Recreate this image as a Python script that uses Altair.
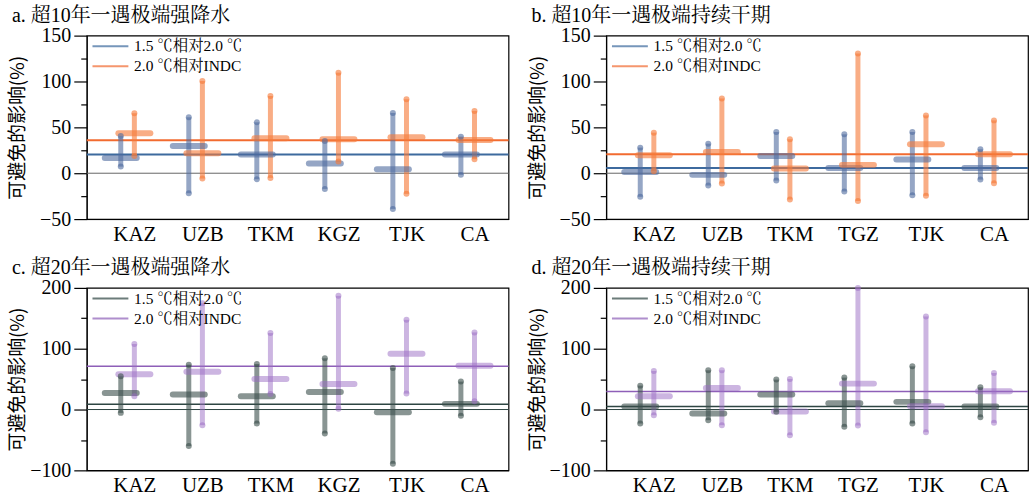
import altair as alt
import pandas as pd

# ---------------- data ----------------
SERIES = ["1.5 ℃相对2.0 ℃", "2.0 ℃相对INDC"]
countries_rain = ["KAZ", "UZB", "TKM", "KGZ", "TJK", "CA"]
countries_dry = ["KAZ", "UZB", "TKM", "TGZ", "TJK", "CA"]

# panel a: 超10年一遇极端强降水
a_s1_low = [7.2, -21.8, -6.5, -17.1, -38.9, -1.8]
a_s1_high = [40.6, 61.0, 55.5, 35.2, 65.7, 39.9]
a_s1_mid = [16.7, 29.7, 20.3, 10.5, 4.3, 20.3]
a_s2_low = [18.8, -5.8, -5.1, 12.7, -22.5, 15.2]
a_s2_high = [65.4, 100.5, 84.2, 109.6, 80.6, 67.9]
a_s2_mid = [43.6, 21.8, 38.1, 37.0, 39.2, 36.3]
a_ref = [20.3, 36.0]

# panel b: 超10年一遇极端持续干期
b_s1_low = [-25.7, -13.4, -8.0, -19.9, -23.9, -6.9]
b_s1_high = [27.9, 32.2, 44.9, 42.4, 44.9, 26.1]
b_s1_mid = [1.4, -1.8, 18.8, 5.8, 14.9, 5.8]
b_s2_low = [2.2, -11.2, -28.6, -30.4, -24.6, -10.9]
b_s2_high = [44.2, 81.5, 37.0, 130.4, 63.0, 57.6]
b_s2_mid = [19.6, 23.2, 5.1, 9.1, 31.5, 20.7]
b_ref = [5.8, 20.7]

# panel c: 超20年一遇极端强降水
c_s1_low = [-5.5, -60.1, -23.0, -39.3, -89.1, -10.4]
c_s1_high = [54.6, 73.8, 74.9, 84.2, 68.3, 45.9]
c_s1_mid = [27.3, 24.6, 21.9, 29.0, -4.4, 9.3]
c_s2_low = [21.9, -25.7, 25.7, 1.1, 26.2, 13.7]
c_s2_high = [107.7, 174.9, 125.7, 186.9, 147.5, 126.8]
c_s2_mid = [57.9, 62.3, 50.3, 42.1, 91.8, 72.1]
c_ref = [8.7, 71.0]

# panel d: 超20年一遇极端持续干期
d_s1_low = [-23.0, -17.5, -3.8, -28.4, -23.0, -12.6]
d_s1_high = [39.3, 64.5, 49.2, 52.5, 71.0, 36.6]
d_s1_mid = [4.9, -6.6, 24.6, 10.4, 12.6, 4.9]
d_s2_low = [-9.3, -25.7, -42.1, -26.2, -37.2, -21.9]
d_s2_high = [63.4, 64.5, 50.3, 200.0, 153.0, 60.1]
d_s2_mid = [21.9, 35.5, -3.3, 42.6, 5.5, 30.1]
d_ref = [4.9, 29.5]

# ---------------- style ----------------
SERIF = "Liberation Serif, Noto Serif CJK SC, Noto Sans CJK SC"
CJK = "Noto Sans CJK SC"
W, H_TOP, H_BOT = 423, 184, 183
OFFSETS = [-0.2, 0.0]
HALF = 0.235


def panel(title, countries, s1, s2, ref, ydom, step, line_colors, bar_colors,
          bar_opacity, ref_width, zero_color, height):
    rows = []
    for k, (lo, hi, mid) in enumerate([s1, s2]):
        for i, c in enumerate(countries):
            xp = i + 1 + OFFSETS[k]
            rows.append(dict(series=SERIES[k], country=c, x=xp,
                             xl=xp - HALF, xr=xp + HALF,
                             lo=lo[i], hi=hi[i], mid=mid[i],
                             bar=bar_colors[k], op=bar_opacity[k]))
    df = pd.DataFrame(rows)
    ends = pd.concat([
        df.assign(v=df["lo"]), df.assign(v=df["hi"])
    ], ignore_index=True)
    df_ref = pd.DataFrame({"series": SERIES, "v": ref})
    df_zero = pd.DataFrame({"v": [0]})

    label_arr = "[" + ",".join("'%s'" % c for c in countries) + "]"
    xaxis = alt.Axis(values=list(range(1, len(countries) + 1)),
                     labelExpr=label_arr + "[datum.value - 1]",
                     ticks=False, grid=False, title=None,
                     labelFont=SERIF, labelFontSize=21, labelPadding=4,
                     labelColor="black", domainColor="black")
    xs = alt.Scale(domain=[0.3, 6.5], nice=False, zero=False)

    yvals = list(range(ydom[0], ydom[1] + 1, step // 2))
    yaxis = alt.Axis(values=yvals,
                     labelExpr="datum.value %% %d === 0 ? datum.label : ''" % step,
                     tickSize={"condition": {"test": "datum.value %% %d === 0" % step,
                                             "value": 13}, "value": 6},
                     tickColor="black", tickWidth=1.2, grid=False,
                     labelFont=SERIF, labelFontSize=20, labelPadding=3,
                     labelColor="black", domainColor="black",
                     title="可避免的影响(%)", titleFont=CJK, titleFontSize=19,
                     titleFontWeight="normal", titleColor="black",
                     titleX=-69, titleY=height / 2, titleAngle=270,
                     titleAlign="center", titleBaseline="middle")
    ys = alt.Scale(domain=ydom, nice=False, zero=False)

    def X(f):
        return alt.X(f, scale=xs, axis=xaxis)

    def Y(f):
        return alt.Y(f, scale=ys, axis=yaxis)

    zero = alt.Chart(df_zero).mark_rule(color=zero_color, strokeWidth=1).encode(
        y=Y("v:Q"))
    refl = alt.Chart(df_ref).mark_rule(strokeWidth=ref_width).encode(
        y=Y("v:Q"),
        color=alt.Color("series:N",
                        scale=alt.Scale(domain=SERIES, range=line_colors),
                        legend=alt.Legend(orient="none", legendX=16, legendY=3,
                                          title=None,
                                          symbolType="M-9,0H9", symbolSize=16,
                                          symbolStrokeWidth=2,
                                          labelFont=SERIF, labelFontSize=15.5,
                                          labelColor="black", labelOffset=16,
                                          padding=0, rowPadding=3,
                                          labelLimit=300)))
    vbar = alt.Chart(df).mark_rule(strokeWidth=5).encode(
        x=X("x:Q"), y=Y("lo:Q"), y2="hi:Q",
        color=alt.Color("bar:N", scale=None),
        opacity=alt.Opacity("op:Q", scale=None))
    hbar = alt.Chart(df).mark_rule(strokeWidth=6, strokeCap="round").encode(
        x=X("xl:Q"), x2="xr:Q", y=Y("mid:Q"),
        color=alt.Color("bar:N", scale=None),
        opacity=alt.Opacity("op:Q", scale=None))
    dots = alt.Chart(ends).mark_circle(size=36).encode(
        x=X("x:Q"), y=Y("v:Q"),
        color=alt.Color("bar:N", scale=None),
        opacity=alt.Opacity("op:Q", scale=None))

    return alt.layer(zero, refl, vbar, hbar, dots).properties(
        width=W, height=height,
        title=alt.TitleParams(title, anchor="start", font=SERIF, fontSize=20,
                              fontWeight="normal", color="black", offset=0, dx=3))


blue_or = ["#3d6a9e", "#f26b30"]
blue_or_bar = ["#4e6a9e", "#f57a3a"]
dk_pu = ["#2e4643", "#8e5fb8"]
dk_pu_bar = ["#3a4e4b", "#9a6cc4"]

pa = panel("a. 超10年一遇极端强降水", countries_rain,
           (a_s1_low, a_s1_high, a_s1_mid), (a_s2_low, a_s2_high, a_s2_mid),
           a_ref, [-50, 150], 50, blue_or, blue_or_bar, [0.6, 0.62], 2, "#666666", H_TOP)
pb = panel("b. 超10年一遇极端持续干期", countries_dry,
           (b_s1_low, b_s1_high, b_s1_mid), (b_s2_low, b_s2_high, b_s2_mid),
           b_ref, [-50, 150], 50, blue_or, blue_or_bar, [0.6, 0.62], 2, "#666666", H_TOP)
pc = panel("c. 超20年一遇极端强降水", countries_rain,
           (c_s1_low, c_s1_high, c_s1_mid), (c_s2_low, c_s2_high, c_s2_mid),
           c_ref, [-100, 200], 100, dk_pu, dk_pu_bar, [0.6, 0.5], 1.5, "#2e4643", H_BOT)
pd_ = panel("d. 超20年一遇极端持续干期", countries_dry,
            (d_s1_low, d_s1_high, d_s1_mid), (d_s2_low, d_s2_high, d_s2_mid),
            d_ref, [-100, 200], 100, dk_pu, dk_pu_bar, [0.6, 0.5], 1.5, "#2e4643", H_BOT)

top = alt.hconcat(pa, pb, spacing=17).resolve_scale(color="independent")
bot = alt.hconcat(pc, pd_, spacing=17).resolve_scale(color="independent")
chart = alt.vconcat(top, bot, spacing=12).resolve_scale(color="independent").properties(
    padding={"left": 8, "top": 4, "right": 0, "bottom": 0},
    background="white",
).configure_view(stroke="black", strokeWidth=1.2)

chart.save("out.html", embed_options={"renderer": "svg", "actions": False})
